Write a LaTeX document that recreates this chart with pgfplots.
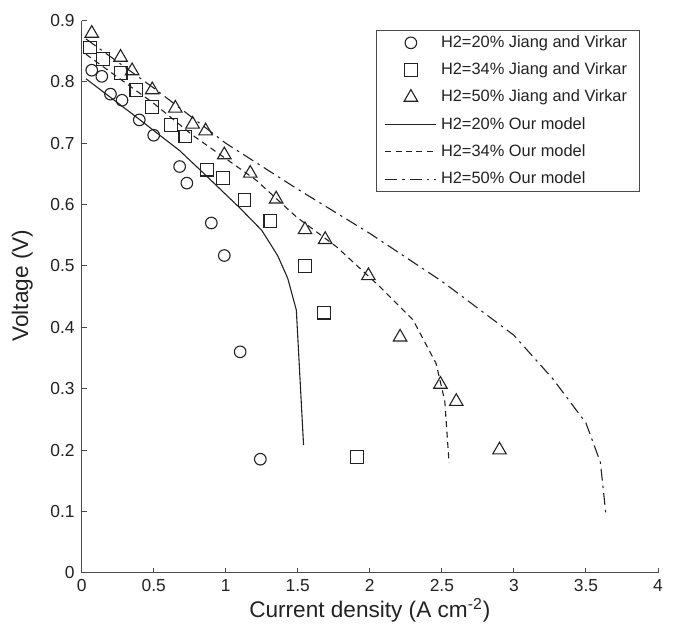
\documentclass[border=0pt]{standalone}
\usepackage{fontspec}
\setmainfont{Liberation Sans}
\usepackage{pgfplots}
\pgfplotsset{compat=1.18}
\definecolor{ink}{HTML}{222222}
\definecolor{axisgray}{HTML}{4A4A4A}
\begin{document}
\begin{tikzpicture}
\useasboundingbox (-40.85pt,-27pt) rectangle (297.3pt,286.5pt);
\begin{axis}[
  at={(0,0)}, anchor=south west,
  width=288.3pt, height=276.25pt, scale only axis,
  xmin=0, xmax=4, ymin=0, ymax=0.9,
  axis x line*=bottom, axis y line*=left,
  axis line style={axisgray, line width=0.6pt},
  every tick/.style={axisgray, line width=0.5pt},
  major tick length=2.5pt,
  xtick={0,0.5,1,1.5,2,2.5,3,3.5,4},
  xticklabels={0,0.5,1,1.5,2,2.5,3,3.5,4},
  ytick={0,0.1,0.2,0.3,0.4,0.5,0.6,0.7,0.8,0.9},
  yticklabels={0,0.1,0.2,0.3,0.4,0.5,0.6,0.7,0.8,0.9},
  /pgf/number format/assume math mode=true,
  tick label style={font=\fontsize{8.7}{10}\selectfont, text=ink},
  label style={font=\fontsize{11.3}{13}\selectfont, text=ink},
  xlabel={Current density (A cm\textsuperscript{-2})},
  ylabel={Voltage (V)},
  xlabel style={at={(axis description cs:0.5,-0.068)}, anchor=center},
  ylabel style={at={(axis description cs:-0.103,0.52)}, anchor=center},
  legend style={at={(0.968,0.983)}, anchor=north east,
    draw=axisgray, line width=0.5pt, font=\fontsize{8.2}{9.5}\selectfont,
    text=ink, inner xsep=4pt, inner ysep=0.5pt, row sep=2.2pt},
  legend cell align=left,
  legend image code/.code={\draw[#1,mark repeat=2,mark phase=2] plot coordinates {(0cm,0cm) (0.45cm,0cm) (0.9cm,0cm)};},
  every axis plot/.append style={ink, line width=0.55pt},
  clip=false,
]
% H2=20% Jiang and Virkar
\addplot[only marks, mark=o, mark size=2.9pt] coordinates {
 (0.07,0.819) (0.14,0.809) (0.20,0.780) (0.28,0.770) (0.40,0.738)
 (0.50,0.713) (0.68,0.662) (0.73,0.635) (0.90,0.570) (0.99,0.517)
 (1.10,0.360) (1.24,0.185)};
\addlegendentry{H2=20\% Jiang and Virkar}
% H2=34% Jiang and Virkar
\addplot[only marks, mark=square, mark size=3.2pt] coordinates {
 (0.06,0.856) (0.15,0.837) (0.27,0.814) (0.38,0.787) (0.49,0.759)
 (0.62,0.730) (0.72,0.711) (0.87,0.657) (0.98,0.643) (1.13,0.607)
 (1.31,0.573) (1.55,0.500) (1.68,0.424) (1.91,0.189)};
\addlegendentry{H2=34\% Jiang and Virkar}
% H2=50% Jiang and Virkar
\addplot[only marks, mark=triangle, mark size=3.9pt] coordinates {
 (0.07,0.879) (0.27,0.840) (0.35,0.818) (0.49,0.787) (0.65,0.757)
 (0.77,0.731) (0.86,0.720) (0.99,0.681) (1.17,0.651) (1.35,0.609)
 (1.55,0.559) (1.69,0.543) (1.99,0.484) (2.21,0.384) (2.49,0.307)
 (2.60,0.279) (2.90,0.200)};
\addlegendentry{H2=50\% Jiang and Virkar}
% H2=20% Our model
\addplot[solid] coordinates {
 (0.03,0.805) (0.35,0.748) (0.68,0.688) (0.86,0.648) (1.10,0.594)
 (1.25,0.558) (1.36,0.517) (1.43,0.480) (1.49,0.428) (1.54,0.208)};
\addlegendentry{H2=20\% Our model}
% H2=34% Our model
\addplot[dash pattern=on 3pt off 2.2pt] coordinates {
 (0.03,0.845) (0.50,0.765) (0.77,0.713) (1.00,0.675) (1.21,0.640)
 (1.49,0.580) (1.77,0.531) (2.07,0.466) (2.30,0.412) (2.46,0.341)
 (2.52,0.280) (2.55,0.179)};
\addlegendentry{H2=34\% Our model}
% H2=50% Our model
\addplot[dash pattern=on 6pt off 2.5pt on 1.2pt off 2.5pt] coordinates {
 (0.03,0.870) (0.50,0.790) (1.00,0.700) (1.50,0.625) (2.00,0.553)
 (2.50,0.475) (3.00,0.387) (3.27,0.316) (3.50,0.244) (3.60,0.180)
 (3.64,0.092)};
\addlegendentry{H2=50\% Our model}
\end{axis}
\end{tikzpicture}
\end{document}
